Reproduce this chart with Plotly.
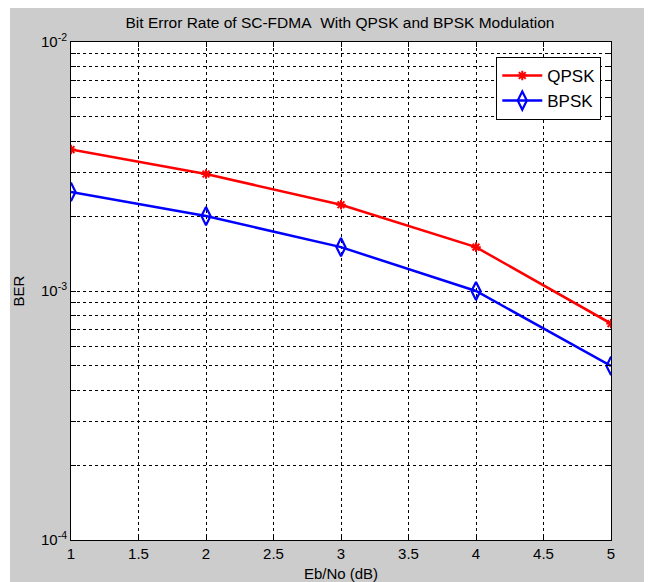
import plotly.graph_objects as go

ebno = [1, 2, 3, 4, 5]
ber_qpsk = [3.7e-3, 2.95e-3, 2.22e-3, 1.5e-3, 7.4e-4]
ber_bpsk = [2.5e-3, 2.0e-3, 1.5e-3, 1.0e-3, 5.0e-4]

x_ticks = [1, 1.5, 2, 2.5, 3, 3.5, 4, 4.5, 5]
x_ticktext = ["1", "1.5", "2", "2.5", "3", "3.5", "4", "4.5", "5"]

decades = [-4, -3]
y_tickvals = []
y_ticktext = []
for d in decades:
    for k in range(1, 10):
        y_tickvals.append(k * 10.0 ** d)
        y_ticktext.append(f"10<sup>{d}</sup>" if k == 1 else "")
y_tickvals.append(1e-2)
y_ticktext.append("10<sup>-2</sup>")

FONT = "Liberation Sans, Arial, sans-serif"

fig = go.Figure()
fig.add_trace(go.Scatter(
    x=ebno, y=ber_qpsk, name="QPSK", mode="lines+markers",
    line=dict(color="#ff0000", width=2.5),
    marker=dict(symbol="asterisk-open", size=8, line=dict(color="#ff0000", width=2)),
))
fig.add_trace(go.Scatter(
    x=ebno, y=ber_bpsk, name="BPSK", mode="lines+markers",
    line=dict(color="#0000ff", width=2.5),
    marker=dict(symbol="diamond-tall-open", size=13, line=dict(color="#0000ff", width=2.2)),
))

# page body has an 8px margin, so the figure is drawn 8px in from the top-left
W, H = 644, 574
L, R, T, B = 63, 41, 34, 42
pw, ph = W - L - R, H - T - B

fig.update_layout(
    width=W, height=H,
    margin=dict(l=L, r=R, t=T, b=B, pad=0, autoexpand=False),
    paper_bgcolor="#cccccc",
    plot_bgcolor="white",
    font=dict(family=FONT, size=15, color="black"),
    title=dict(text="Bit Error Rate of SC-FDMA&nbsp; With QPSK and BPSK Modulation",
               x=332 / W, xanchor="center", y=1 - 15 / H, yanchor="middle",
               font=dict(family=FONT, size=15.5, color="black")),
    showlegend=True,
    legend=dict(x=0.982, xanchor="right", y=0.97, yanchor="top",
                bgcolor="white", bordercolor="black", borderwidth=1,
                font=dict(family=FONT, size=17, color="black"),
                itemwidth=40, tracegroupgap=2),
    xaxis=dict(range=[1, 5], tickmode="array", tickvals=x_ticks, ticktext=x_ticktext,
               ticks="inside", ticklen=5, tickcolor="black", automargin=False,
               showline=True, linecolor="black", linewidth=1, mirror="ticks",
               showgrid=True, gridcolor="black", gridwidth=1, griddash="3px,3px",
               zeroline=False,
               tickfont=dict(family=FONT, size=15, color="black"),
               title=dict(text="Eb/No (dB)", standoff=10,
                          font=dict(family=FONT, size=15, color="black"))),
    yaxis=dict(type="log", range=[-4, -2], tickmode="array",
               tickvals=y_tickvals, ticktext=y_ticktext,
               ticks="inside", ticklen=5, tickcolor="black", automargin=False,
               showline=True, linecolor="black", linewidth=1, mirror="ticks",
               showgrid=True, gridcolor="black", gridwidth=1, griddash="3px,3px",
               zeroline=False,
               tickfont=dict(family=FONT, size=15, color="black"),
               title=dict(text="BER", standoff=12,
                          font=dict(family=FONT, size=15, color="black"))),
)

# thin white strip at the left edge of the screenshot
fig.add_shape(type="rect", xref="paper", yref="paper",
              x0=-L / pw - 0.01, x1=(2 - L) / pw, y0=-1, y1=2,
              fillcolor="white", line=dict(width=0), layer="below")

fig.write_html("out.html")
